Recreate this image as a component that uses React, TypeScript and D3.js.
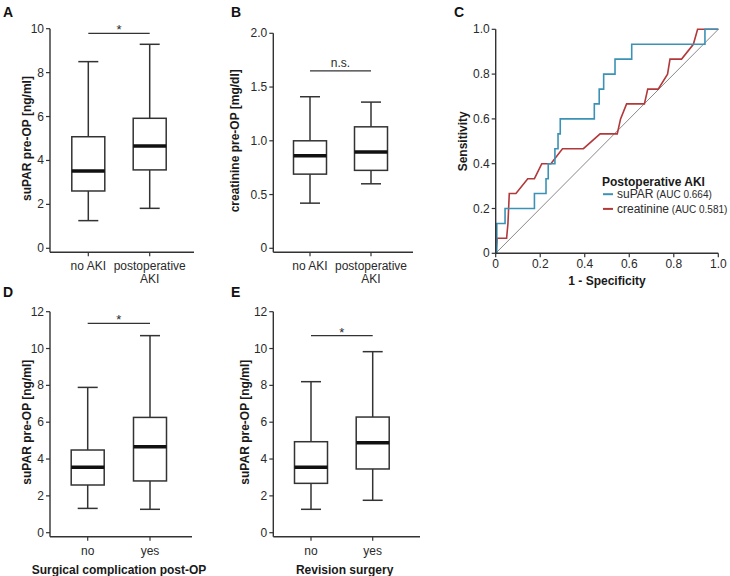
import React from "react";
import * as d3 from "d3";

// ---------- DATA ----------
// box stats: [min, q1, median, q3, max]
const akiCategories = ["no AKI", "postoperative AKI"];
const suparAkiBoxes = [
  [1.26, 2.61, 3.52, 5.08, 8.5],
  [1.82, 3.57, 4.66, 5.92, 9.29],
];
const suparAkiTicks = [0, 2, 4, 6, 8, 10];
const suparAkiSig = { value: 9.79, label: "*" };

const creatAkiBoxes = [
  [0.42, 0.69, 0.86, 1.0, 1.41],
  [0.6, 0.725, 0.895, 1.13, 1.36],
];
const creatAkiTicks = [0, 0.5, 1.0, 1.5, 2.0];
const creatAkiSig = { value: 1.65, label: "n.s." };

const yesNoCategories = ["no", "yes"];
const complicationBoxes = [
  [1.32, 2.59, 3.55, 4.49, 7.89],
  [1.27, 2.81, 4.67, 6.26, 10.7],
];
const complicationSig = { value: 11.37, label: "*" };
const revisionBoxes = [
  [1.27, 2.68, 3.55, 4.94, 8.2],
  [1.76, 3.46, 4.89, 6.28, 9.83],
];
const revisionSig = { value: 10.7, label: "*" };
const suparTicks12 = [0, 2, 4, 6, 8, 10, 12];

// ROC curves
const rocTicks = [0, 0.2, 0.4, 0.6, 0.8, 1.0];
const suparFpr = [0, 0.005, 0.005, 0.042, 0.042, 0.174, 0.174, 0.226, 0.226, 0.236, 0.236, 0.266, 0.266, 0.28, 0.28, 0.29, 0.29, 0.443, 0.443, 0.465, 0.465, 0.485, 0.485, 0.536, 0.536, 0.611, 0.611, 0.94, 0.94, 1.0];
const suparTpr = [0, 0, 0.133, 0.133, 0.2, 0.2, 0.267, 0.267, 0.333, 0.333, 0.4, 0.4, 0.467, 0.467, 0.533, 0.533, 0.6, 0.6, 0.667, 0.667, 0.733, 0.733, 0.8, 0.8, 0.867, 0.867, 0.933, 0.933, 1.0, 1.0];
const creatFpr = [0, 0.007, 0.049, 0.055, 0.061, 0.091, 0.144, 0.174, 0.207, 0.248, 0.3, 0.394, 0.469, 0.546, 0.561, 0.588, 0.668, 0.683, 0.73, 0.772, 0.783, 0.835, 0.888, 0.907, 1.0];
const creatTpr = [0, 0.067, 0.067, 0.133, 0.267, 0.267, 0.333, 0.333, 0.4, 0.4, 0.467, 0.467, 0.533, 0.533, 0.6, 0.667, 0.667, 0.733, 0.733, 0.8, 0.867, 0.867, 0.933, 1.0, 1.0];
const rocSeries = [
  { name: "suPAR", auc: "(AUC 0.664)", color: "#3b92b5" },
  { name: "creatinine", auc: "(AUC 0.581)", color: "#b2383a" },
];

// ---------- STYLE ----------
const FONT = "'Liberation Sans', Arial, Helvetica, sans-serif";
const AX = "#333";
const TXT = "#2a2a2a";

type Layout = {
  axisX: number;
  xEnd: number;
  yTop: number;
  yZero: number;
  centers: [number, number];
  yLabelX: number;
};

function wrapLabel(s: string): string[] {
  if (s.length > 10 && s.includes(" ")) {
    const i = s.lastIndexOf(" ");
    return [s.slice(0, i), s.slice(i + 1)];
  }
  return [s];
}

function BoxPanel(props: {
  layout: Layout;
  categories: string[];
  boxes: number[][];
  ticks: number[];
  fmt: (v: number) => string;
  sig: { value: number; label: string };
  yLabel: string;
  xLabel?: string;
}) {
  const { layout: L, categories, boxes, ticks, fmt, sig, yLabel, xLabel } = props;
  const y = d3
    .scaleLinear()
    .domain([0, ticks[ticks.length - 1]])
    .range([L.yZero, L.yTop]);
  const x = d3.scalePoint<string>().domain(categories).range(L.centers);
  const xAxisY = L.yZero + 4;
  const bw = 33;
  const cw = 20;
  const sx1 = x(categories[0])!;
  const sx2 = x(categories[1])!;
  return (
    <g>
      {/* y axis */}
      <line x1={L.axisX} x2={L.axisX} y1={y(ticks[ticks.length - 1])} y2={xAxisY} stroke={AX} strokeWidth={1.4} />
      {ticks.map((t) => (
        <g key={t}>
          <line x1={L.axisX - 4} x2={L.axisX} y1={y(t)} y2={y(t)} stroke={AX} strokeWidth={1.2} />
          <text x={L.axisX - 6} y={y(t)} textAnchor="end" dominantBaseline="central" fontSize={12} fill={TXT} fontFamily={FONT}>
            {fmt(t)}
          </text>
        </g>
      ))}
      {/* x axis */}
      <line x1={L.axisX} x2={L.xEnd} y1={xAxisY} y2={xAxisY} stroke={AX} strokeWidth={1.4} />
      {categories.map((c) => {
        const lines = wrapLabel(c);
        return (
          <g key={c}>
            <line x1={x(c)} x2={x(c)} y1={xAxisY} y2={xAxisY + 4} stroke={AX} strokeWidth={1.2} />
            {lines.map((ln, i) => (
              <text key={i} x={x(c)} y={xAxisY + 18 + i * 13} textAnchor="middle" fontSize={12} fill={TXT} fontFamily={FONT}>
                {ln}
              </text>
            ))}
          </g>
        );
      })}
      {/* boxes */}
      {boxes.map((b, i) => {
        const cx = x(categories[i])!;
        const [mn, q1, md, q3, mx] = b;
        return (
          <g key={i}>
            <line x1={cx} x2={cx} y1={y(mx)} y2={y(q3)} stroke={AX} strokeWidth={1.5} />
            <line x1={cx} x2={cx} y1={y(q1)} y2={y(mn)} stroke={AX} strokeWidth={1.5} />
            <line x1={cx - cw / 2} x2={cx + cw / 2} y1={y(mx)} y2={y(mx)} stroke={AX} strokeWidth={1.5} />
            <line x1={cx - cw / 2} x2={cx + cw / 2} y1={y(mn)} y2={y(mn)} stroke={AX} strokeWidth={1.5} />
            <rect x={cx - bw / 2} y={y(q3)} width={bw} height={y(q1) - y(q3)} fill="#fff" stroke={AX} strokeWidth={1.5} />
            <line x1={cx - bw / 2} x2={cx + bw / 2} y1={y(md)} y2={y(md)} stroke="#111" strokeWidth={3.5} />
          </g>
        );
      })}
      {/* significance */}
      <line x1={sx1} x2={sx2} y1={y(sig.value)} y2={y(sig.value)} stroke={AX} strokeWidth={1.3} />
      <text
        x={(sx1 + sx2) / 2}
        y={y(sig.value) - (sig.label === "*" ? -1 : 4)}
        textAnchor="middle"
        fontSize={sig.label === "*" ? 13 : 12}
        fill={TXT}
        fontFamily={FONT}
      >
        {sig.label}
      </text>
      {/* axis titles */}
      <text
        transform={`translate(${L.yLabelX},${(L.yTop + L.yZero) / 2}) rotate(-90)`}
        textAnchor="middle"
        dominantBaseline="central"
        fontSize={12}
        fontWeight="bold"
        fill="#1a1a1a"
        fontFamily={FONT}
      >
        {yLabel}
      </text>
      {xLabel && (
        <text x={(L.axisX + L.xEnd) / 2 - 2} y={xAxisY + 37} textAnchor="middle" fontSize={12} fontWeight="bold" fill="#1a1a1a" fontFamily={FONT}>
          {xLabel}
        </text>
      )}
    </g>
  );
}

function RocPanel() {
  const x = d3.scaleLinear().domain([0, 1]).range([495.7, 718.3]);
  const y = d3.scaleLinear().domain([0, 1]).range([253.3, 29.3]);
  const fmt = (v: number) => (v === 0 ? "0" : d3.format(".1f")(v));
  const line = d3
    .line<[number, number]>()
    .x((d) => x(d[0]))
    .y((d) => y(d[1]));
  const supPts = suparFpr.map((f, i) => [f, suparTpr[i]] as [number, number]);
  const crPts = creatFpr.map((f, i) => [f, creatTpr[i]] as [number, number]);
  const legX = 602;
  const legY = 181.7;
  return (
    <g>
      {/* diagonal */}
      <line x1={x(0)} y1={y(0)} x2={x(1)} y2={y(1)} stroke="#555" strokeWidth={0.7} />
      <path d={line(crPts)!} fill="none" stroke={rocSeries[1].color} strokeWidth={1.6} />
      <path d={line(supPts)!} fill="none" stroke={rocSeries[0].color} strokeWidth={1.6} />
      {/* axes */}
      <line x1={x(0)} x2={x(0)} y1={y(1)} y2={y(0)} stroke={AX} strokeWidth={1.4} />
      <line x1={x(0)} x2={x(1)} y1={y(0)} y2={y(0)} stroke={AX} strokeWidth={1.4} />
      {rocTicks.map((t) => (
        <g key={t}>
          <line x1={x(0) - 4} x2={x(0)} y1={y(t)} y2={y(t)} stroke={AX} strokeWidth={1.2} />
          <text x={x(0) - 6} y={y(t)} textAnchor="end" dominantBaseline="central" fontSize={12} fill={TXT} fontFamily={FONT}>
            {fmt(t)}
          </text>
          <line x1={x(t)} x2={x(t)} y1={y(0)} y2={y(0) + 4} stroke={AX} strokeWidth={1.2} />
          <text x={x(t)} y={y(0) + 15} textAnchor="middle" fontSize={12} fill={TXT} fontFamily={FONT}>
            {fmt(t)}
          </text>
        </g>
      ))}
      <text x={(x(0) + x(1)) / 2} y={285} textAnchor="middle" fontSize={12} fontWeight="bold" fill="#1a1a1a" fontFamily={FONT}>
        1 - Specificity
      </text>
      <text
        transform={`translate(463,${(y(0) + y(1)) / 2}) rotate(-90)`}
        textAnchor="middle"
        dominantBaseline="central"
        fontSize={12}
        fontWeight="bold"
        fill="#1a1a1a"
        fontFamily={FONT}
      >
        Sensitivity
      </text>
      {/* legend */}
      <text x={legX} y={legY} dominantBaseline="central" fontSize={12} fontWeight="bold" fill="#1a1a1a" fontFamily={FONT}>
        Postoperative AKI
      </text>
      {rocSeries.map((s, i) => (
        <g key={s.name}>
          <line x1={legX + 1} x2={legX + 11} y1={legY + 12.5 + i * 14.7} y2={legY + 12.5 + i * 14.7} stroke={s.color} strokeWidth={2} />
          <text x={legX + 15} y={legY + 12.5 + i * 14.7} dominantBaseline="central" fontSize={12} fill={TXT} fontFamily={FONT}>
            {s.name}
            <tspan fontSize={10}> {s.auc}</tspan>
          </text>
        </g>
      ))}
    </g>
  );
}

function Letter({ x, y, t }: { x: number; y: number; t: string }) {
  return (
    <text x={x} y={y} fontSize={14} fontWeight="bold" fill="#111" fontFamily={FONT}>
      {t}
    </text>
  );
}

export default function App() {
  const fmtInt = (v: number) => d3.format("d")(v);
  const fmtDec = (v: number) => (v === 0 ? "0" : d3.format(".1f")(v));
  return (
    <svg width={730} height={576} style={{ display: "block", position: "absolute", left: 0, top: 0, background: "#fff" }}>
      <rect width={730} height={576} fill="#fff" />
      <Letter x={3} y={16.5} t="A" />
      <Letter x={231} y={16.5} t="B" />
      <Letter x={454} y={16.5} t="C" />
      <Letter x={3} y={297} t="D" />
      <Letter x={231} y={297} t="E" />
      <BoxPanel
        layout={{ axisX: 50, xEnd: 194, yTop: 28.7, yZero: 248.3, centers: [88.3, 149.7], yLabelX: 27 }}
        categories={akiCategories}
        boxes={suparAkiBoxes}
        ticks={suparAkiTicks}
        fmt={fmtInt}
        sig={suparAkiSig}
        yLabel="suPAR pre-OP [ng/ml]"
      />
      <BoxPanel
        layout={{ axisX: 273.3, xEnd: 413, yTop: 33.3, yZero: 248.3, centers: [310, 371], yLabelX: 235 }}
        categories={akiCategories}
        boxes={creatAkiBoxes}
        ticks={creatAkiTicks}
        fmt={fmtDec}
        sig={creatAkiSig}
        yLabel="creatinine pre-OP [mg/dl]"
      />
      <RocPanel />
      <BoxPanel
        layout={{ axisX: 50, xEnd: 192, yTop: 311.7, yZero: 532.7, centers: [87.7, 150], yLabelX: 27 }}
        categories={yesNoCategories}
        boxes={complicationBoxes}
        ticks={suparTicks12}
        fmt={fmtInt}
        sig={complicationSig}
        yLabel="suPAR pre-OP [ng/ml]"
        xLabel="Surgical complication post-OP"
      />
      <BoxPanel
        layout={{ axisX: 273.3, xEnd: 420, yTop: 311.7, yZero: 532.7, centers: [311, 372.7], yLabelX: 245 }}
        categories={yesNoCategories}
        boxes={revisionBoxes}
        ticks={suparTicks12}
        fmt={fmtInt}
        sig={revisionSig}
        yLabel="suPAR pre-OP [ng/ml]"
        xLabel="Revision surgery"
      />
    </svg>
  );
}
